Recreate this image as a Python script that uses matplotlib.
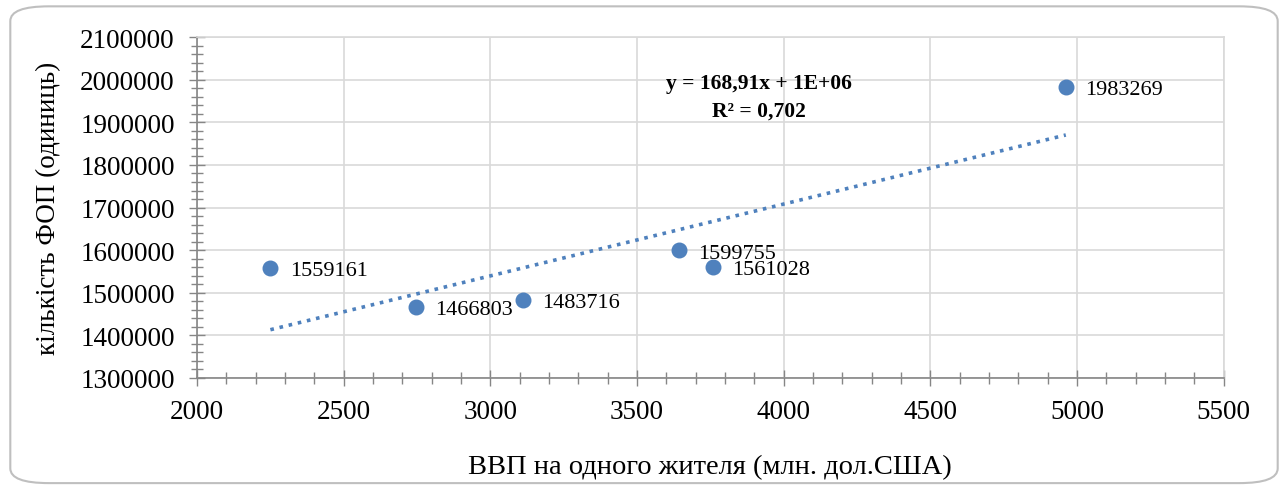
import numpy as np
import matplotlib.pyplot as plt
from matplotlib.patches import FancyBboxPatch
from matplotlib.ticker import MultipleLocator, StrMethodFormatter

# ВВП на одного жителя і кількість ФОП
gdp = [2250, 2745, 3110, 3642, 3758, 4962]
fop = [1559161, 1466803, 1483716, 1599755, 1561028, 1983269]
labels = [str(v) for v in fop]

x_ticks = [2000, 2500, 3000, 3500, 4000, 4500, 5000, 5500]
y_ticks = [1300000, 1400000, 1500000, 1600000, 1700000, 1800000, 1900000, 2000000, 2100000]

blue = "#4F81BD"
plt.rcParams["font.family"] = ["Liberation Serif", "DejaVu Serif"]

fig = plt.figure(figsize=(12.88, 4.89), dpi=100)
fig.patches.append(FancyBboxPatch((0.008, 0.01), 0.984, 0.975, boxstyle="round,pad=0,rounding_size=0.03",
                                  transform=fig.transFigure, fc="none", ec="#BFBFBF", lw=1.5, zorder=-1))
ax = fig.add_axes([0.153, 0.225, 0.797, 0.697])
ax.set_facecolor("none")

ax.scatter(gdp, fop, s=110, color=blue, zorder=3)
for x, y, t in zip(gdp, fop, labels):
    ax.annotate(t, (x, y), xytext=(14, -2), textcoords="offset points", va="center", fontsize=16)

# лінійний тренд
k, b = np.polyfit(gdp, fop, 1)
xs = np.array([min(gdp), max(gdp)])
ax.plot(xs, k * xs + b, linestyle=(0, (1, 1.6)), lw=2.6, color=blue, zorder=2)
ax.text(3915, 1960000, "y = 168,91x + 1E+06\nR² = 0,702", ha="center", va="center",
        fontsize=15.5, fontweight="bold", linespacing=1.55)

ax.set_xlim(2000, 5500)
ax.set_ylim(1300000, 2100000)
ax.set_xticks(x_ticks)
ax.set_yticks(y_ticks)
ax.yaxis.set_major_formatter(StrMethodFormatter("{x:.0f}"))
ax.xaxis.set_minor_locator(MultipleLocator(100))
ax.yaxis.set_minor_locator(MultipleLocator(20000))
ax.tick_params(which="major", direction="inout", length=12, width=1, color="#868686", labelsize=19.5)
ax.tick_params(which="minor", direction="inout", length=9, width=1, color="#868686")
ax.tick_params(axis="x", pad=9)
ax.tick_params(axis="y", pad=10)

ax.grid(True, color="#D9D9D9", lw=1.2)
ax.set_axisbelow(True)
for s in ["top", "right"]:
    ax.spines[s].set_color("#D9D9D9")
    ax.spines[s].set_linewidth(1.2)
for s in ["left", "bottom"]:
    ax.spines[s].set_color("#868686")
    ax.spines[s].set_linewidth(1.2)

ax.set_xlabel("ВВП на одного жителя (млн. дол.США)", fontsize=20.5, labelpad=22)
ax.set_ylabel("кількість ФОП (одиниць)", fontsize=19.5, labelpad=14)

fig.savefig("out.png", dpi=100)
